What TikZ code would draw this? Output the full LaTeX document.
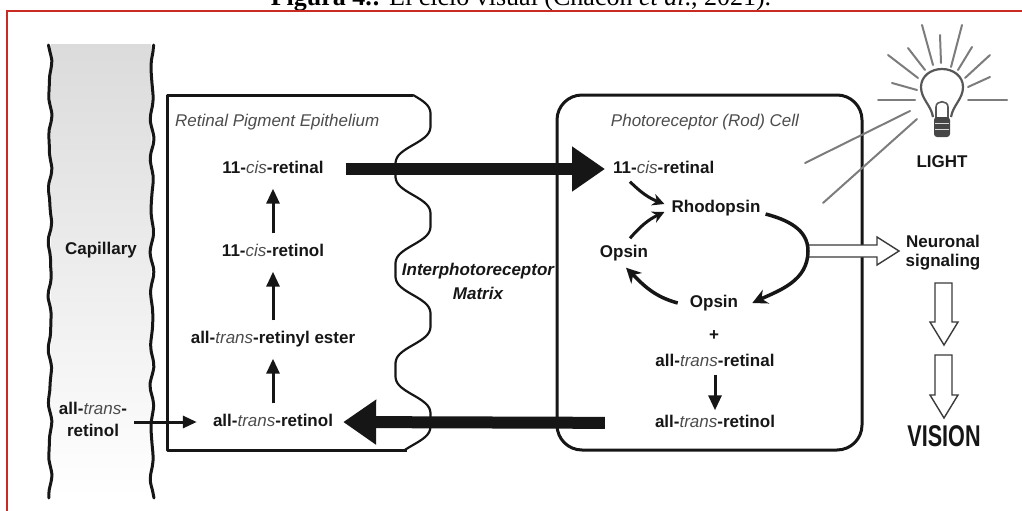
\documentclass[tikz,border=0pt]{standalone}
\usepackage{fontspec}
\setmainfont{Liberation Sans}
\newfontfamily\capfont{Liberation Serif}
\usetikzlibrary{arrows.meta,calc}

\definecolor{ink}{HTML}{161616}
\definecolor{soft}{HTML}{4C4C4C}
\definecolor{ray}{HTML}{7C7C7C}
\definecolor{framered}{HTML}{C92A22}
\definecolor{hollowline}{HTML}{3A3A3A}

% italic, non-bold isomer prefix inside a bold label
\newcommand{\isomer}[1]{{\mdseries\itshape\color{soft}#1}}

\tikzset{
  lbl/.style={font=\fontsize{17}{19}\selectfont\bfseries, text=ink,
    inner sep=0pt, text height=12pt, text depth=3pt},
  ttl/.style={font=\fontsize{17}{19}\selectfont\itshape, text=soft, inner sep=0pt},
  boxline/.style={line width=3pt, draw=ink, line join=round},
  waveline/.style={line width=2.2pt, draw=ink},
  vessel/.style={line width=3pt, draw=ink, line cap=round},
  uparrow/.style={line width=3pt, draw=ink, -{Triangle[length=15pt,width=13pt]},
    shorten <=11pt, shorten >=12pt},
  fatarrow/.style={line width=12pt, draw=ink, -{Triangle[length=33pt,width=43pt]}},
  looparrow/.style={line width=3.5pt, draw=ink, -{Stealth[length=15pt,width=15pt]}},
  smallarrow/.style={line width=3pt, draw=ink, -{Stealth[length=12pt,width=12pt]}},
  hollow/.style={line width=1.4pt, draw=hollowline, fill=white, line join=miter},
  rayline/.style={line width=2pt, draw=ray, line cap=round},
  bulb/.style={line width=2.2pt, draw=ray!70!black},
}

\begin{document}
\begin{tikzpicture}[x=1pt,y=-1pt]
\useasboundingbox (0,0) rectangle (1022,511);
\clip (0,0) rectangle (1022,511);

% caption (only its lower part lies inside the page)
\node[anchor=base, inner sep=0pt, font=\capfont\fontsize{26}{28}\selectfont] (caption) at (521,6)
  {\textbf{Figura 4.:} El ciclo visual (Chacón \textit{et al}., 2021).};

% red frame
\draw[framered, line width=2pt] (1030,11) -- (7,11) -- (7,520);

% ---------- capillary ----------
\fill[top color=gray!28, middle color=gray!52, bottom color=white] (51,45) rectangle (151,498);
\draw[vessel] plot[smooth, domain=45:498, samples=60, variable=\t]
  ({50+1.4*sin(7*\t)+0.6*sin(13*\t+30)}, {\t});
\draw[vessel] plot[smooth, domain=45:498, samples=60, variable=\t]
  ({152+1.4*sin(8*\t+60)+0.6*sin(11*\t)}, {\t});
\node[lbl] (cap) at (101,250) {Capillary};
\node[lbl, align=center, text height=, text depth=, font=\fontsize{17}{22}\selectfont\bfseries] (capin) at (93,419)
  {all-\isomer{trans}-\\retinol};

% ---------- retinal pigment epithelium ----------
\draw[boxline] (413,95) -- (167,95) -- (167,450) -- (407,450);
\draw[waveline] plot[smooth, domain=95:450, samples=160, variable=\t]
  ({413+20*sin(3.6*(\t-95))+2.5*sin(10.8*(\t-95))}, {\t});
\node[ttl, anchor=west] (rpetitle) at (175,122) {Retinal Pigment Epithelium};
\node[lbl] (rpecisal) at (273,169) {11-\isomer{cis}-retinal};
\node[lbl] (rpecisol) at (273,252) {11-\isomer{cis}-retinol};
\node[lbl] (rpeester) at (273,339) {all-\isomer{trans}-retinyl ester};
\node[lbl] (rpetrol) at (273,422) {all-\isomer{trans}-retinol};
\draw[uparrow] (rpecisol) -- (rpecisal);
\draw[uparrow] (rpeester) -- (rpecisol);
\draw[uparrow] (rpetrol) -- (rpeester);
\draw[line width=3pt, draw=ink, -{Triangle[length=14pt,width=12pt]}, shorten <=7pt, shorten >=16pt]
  (capin.east |- rpetrol.west) -- (rpetrol.west);

% interphotoreceptor matrix
\node[font=\fontsize{17}{24}\selectfont\bfseries\itshape, text=ink, align=center, inner sep=0pt]
  (ipm) at (478,281) {Interphotoreceptor\\Matrix};

% ---------- photoreceptor (rod) cell ----------
\draw[boxline, rounded corners=25pt] (557,95) rectangle (862,450);
\node[ttl] (prtitle) at (705,122) {Photoreceptor (Rod) Cell};
\node[lbl, anchor=west] (prcisal) at (613,169) {11-\isomer{cis}-retinal};
\node[lbl] (rho) at (716,208) {Rhodopsin};
\node[lbl] (opsL) at (624,253) {Opsin};
\node[lbl] (opsB) at (714,303) {Opsin};
\node[lbl] (plus) at (714,336) {+};
\node[lbl] (prtral) at (715,362) {all-\isomer{trans}-retinal};
\node[lbl] (prtrol) at (715,423) {all-\isomer{trans}-retinol};
\draw[uparrow, shorten <=5pt, shorten >=5pt] (prtral) -- (prtrol);

% transport between the two cells
\draw[fatarrow, shorten <=22pt, shorten >=8pt] (rpecisal.east) -- (prcisal.west);
\draw[fatarrow, shorten <=50pt, shorten >=10pt] (prtrol.west) -- (rpetrol.east);

% light
\node[lbl] (light) at (942,163) {LIGHT};
\foreach \a/\b/\c/\d in {940/35/941/63, 922/25/933/65, 962/25/951/67, 908/48/925/70,
  972/47/958/70, 888/55/918/78, 990/55/965/78, 892/83/917/90, 990/77/968/87,
  878/100/915/100, 968/100/1007/100, 805/163/910/111, 823/203/917/119}
  \draw[rayline] (\a,\b) -- (\c,\d);
\draw[bulb] (933,117) .. controls (931,105) and (921,99) .. (921,87)
  .. controls (921,76) and (931,69) .. (942,69)
  .. controls (953,69) and (963,76) .. (963,87)
  .. controls (963,99) and (953,105) .. (951,117);
\draw[bulb, line width=1.6pt] (936,118) -- (936,107) .. controls (936,100) and (948,100) .. (948,107) -- (948,118);
\fill[gray!55!black, rounded corners=3pt] (934,117) rectangle (950,137);
\draw[gray!30, line width=0.8pt] (935,123) -- (949,123) (935,129) -- (949,129);

% neuronal signaling and vision
\node[font=\fontsize{17}{19}\selectfont\bfseries, text=ink, align=center, inner sep=0pt]
  (neuro) at (943,253) {Neuronal\\signaling};
\node[font=\fontsize{30}{32}\selectfont\bfseries, text=ink, inner sep=0pt]
  (vision) at (944,436) {\scalebox{0.72}[1]{VISION}};

\coordinate (loopR) at (808,251);
\draw[hollow] ($(loopR)+(1,-6)$) -- (877,245) -- (877,237) -- (899,251) -- (877,265)
  -- (877,257) -- ($(loopR)+(1,6)$);
\draw[hollow] (935,283) -- (935,322) -- (930,322) -- (944,345) -- (958,322)
  -- (952,322) -- (952,283) -- cycle;
\draw[hollow] (935,355) -- (935,395) -- (930,395) -- (944,418) -- (958,395)
  -- (952,395) -- (952,355) -- cycle;

% visual cycle
\draw[smallarrow] ($(prcisal.south west)+(17,5)$) to[bend right=12] ($(rho.west)+(-7,-4)$);
\draw[smallarrow] ($(opsL.north)+(6,-7)$) to[bend left=12] ($(rho.west)+(-7,4)$);
\draw[looparrow] ($(rho.east)+(5,6)$) to[out=-15,in=90] (loopR) to[out=-90,in=25] ($(opsB.east)+(14,0)$);
\draw[looparrow] ($(opsB.west)+(-12,0)$) to[out=165,in=-45] ($(opsL.south)+(2,7)$);
\end{tikzpicture}
\end{document}
